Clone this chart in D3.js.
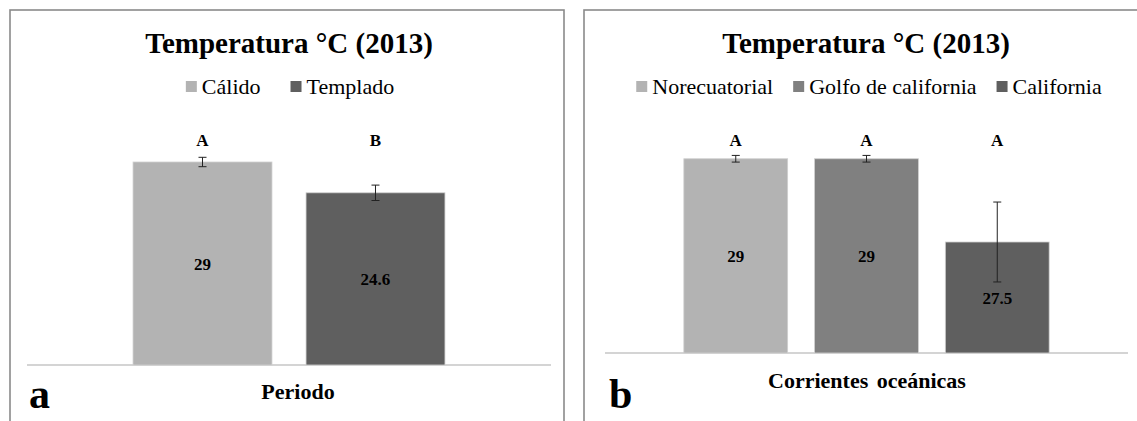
<!DOCTYPE html>
<html><head><meta charset="utf-8">
<script src="https://cdn.jsdelivr.net/npm/d3@7"></script>
<style>body{margin:0;background:#fff}svg{display:block}text{font-family:"Liberation Serif","Times New Roman",serif;fill:#000}</style>
</head><body><svg id="c" width="1137" height="421"></svg>
<script>
// ---- data ----
const titleText = "Temperatura °C (2013)";
const periodoCategories = ["Cálido", "Templado"];
const periodoValues = [29, 24.6];
const periodoErrors = [0.67, 1.1];
const periodoLetters = ["A", "B"];
const periodoAxisTitle = "Periodo";
const periodoPanel = "a";

const corrienteCategories = ["Norecuatorial", "Golfo de california", "California"];
const corrienteValues = [29, 29, 27.5];
const corrienteErrors = [0.06, 0.06, 0.72];
const corrienteLetters = ["A", "A", "A"];
const corrienteAxisTitle = "Corrientes oceánicas";
const corrientePanel = "b";

const svg = d3.select("#c");

function panel(o) {
  const g = svg.append("g");
  g.append("rect").attr("x", o.box[0]).attr("y", o.box[1]).attr("width", o.box[2]).attr("height", o.box[3])
    .attr("fill", "#fff").attr("stroke", "#8a8a8a").attr("stroke-width", 1.6);
  g.append("text").attr("x", o.titleX).attr("y", 53).attr("text-anchor", "middle")
    .attr("font-weight", "bold").attr("font-size", 29).text(titleText);

  const color = d3.scaleOrdinal().domain(o.cats).range(o.colors);
  const x = d3.scaleBand().domain(o.cats).range(o.xRange).paddingInner(o.pi).paddingOuter(o.po);
  const y = d3.scaleLinear().domain(o.yDomain).range(o.yRange);

  // legend
  const lg = g.append("g");
  let cx = 0;
  o.cats.forEach(c => {
    const it = lg.append("g").attr("transform", `translate(${cx},0)`);
    it.append("rect").attr("x", 0).attr("y", -13).attr("width", 11).attr("height", 11).attr("fill", color(c));
    const t = it.append("text").attr("x", 16).attr("y", 0).attr("font-size", 22).text(c);
    const w = t.node().getComputedTextLength();
    cx += 16 + w + o.legendGap;
  });
  const totalW = cx - o.legendGap;
  lg.attr("transform", `translate(${o.legendCenter - totalW / 2},94)`);

  // axis line
  const base = y(o.yDomain[0]);
  g.append("line").attr("x1", o.xRange[0]).attr("x2", o.xRange[1]).attr("y1", base).attr("y2", base)
    .attr("stroke", "#d4d4d4").attr("stroke-width", 2);

  // bars
  g.selectAll("rect.bar").data(o.cats).join("rect").attr("class", "bar")
    .attr("x", c => x(c)).attr("width", x.bandwidth())
    .attr("y", (c, i) => y(o.vals[i])).attr("height", (c, i) => base - y(o.vals[i]))
    .attr("fill", c => color(c)).attr("stroke", "#cfcfcf").attr("stroke-width", 0.8);

  // error bars, value labels, letters
  o.cats.forEach((c, i) => {
    const mx = x(c) + x.bandwidth() / 2;
    const y1 = y(o.vals[i] + o.errs[i]), y2 = y(o.vals[i] - o.errs[i]);
    g.append("line").attr("x1", mx).attr("x2", mx).attr("y1", y1).attr("y2", y2).attr("stroke", "#222").attr("stroke-width", 1);
    [y1, y2].forEach(yy => g.append("line").attr("x1", mx - 4).attr("x2", mx + 4).attr("y1", yy).attr("y2", yy).attr("stroke", "#222").attr("stroke-width", 1));
    g.append("text").attr("x", mx).attr("y", (y(o.vals[i]) + base) / 2 + 6).attr("text-anchor", "middle")
      .attr("font-weight", "bold").attr("font-size", 17).text(o.vals[i]);
    g.append("text").attr("x", mx).attr("y", 146).attr("text-anchor", "middle")
      .attr("font-weight", "bold").attr("font-size", 17).text(o.letters[i]);
  });

  g.append("text").attr("x", o.axisTitleX).attr("y", o.axisTitleY).attr("text-anchor", "middle")
    .attr("font-weight", "bold").attr("font-size", 22).attr("word-spacing", 3).text(o.axisTitle);
  g.append("text").attr("x", o.panelX).attr("y", 408).attr("font-weight", "bold").attr("font-size", 42).text(o.panel);
}

panel({
  box: [10, 10, 554, 430], titleX: 289,
  cats: periodoCategories, vals: periodoValues, errs: periodoErrors, letters: periodoLetters,
  colors: ["#b3b3b3", "#5f5f5f"], legendGap: 30, legendCenter: 290,
  xRange: [27, 551], pi: 0.197, po: 0.613, yDomain: [0, 31], yRange: [365, 148],
  axisTitle: periodoAxisTitle, axisTitleX: 298, axisTitleY: 399, panel: periodoPanel, panelX: 29
});
panel({
  box: [584, 10, 600, 430], titleX: 866,
  cats: corrienteCategories, vals: corrienteValues, errs: corrienteErrors, letters: corrienteLetters,
  colors: ["#b3b3b3", "#808080", "#5f5f5f"], legendGap: 20, legendCenter: 869,
  xRange: [605, 1128], pi: 0.206, po: 0.603, yDomain: [25.5, 29.5], yRange: [353, 131],
  axisTitle: corrienteAxisTitle, axisTitleX: 867, axisTitleY: 388, panel: corrientePanel, panelX: 609
});
</script></body></html>
